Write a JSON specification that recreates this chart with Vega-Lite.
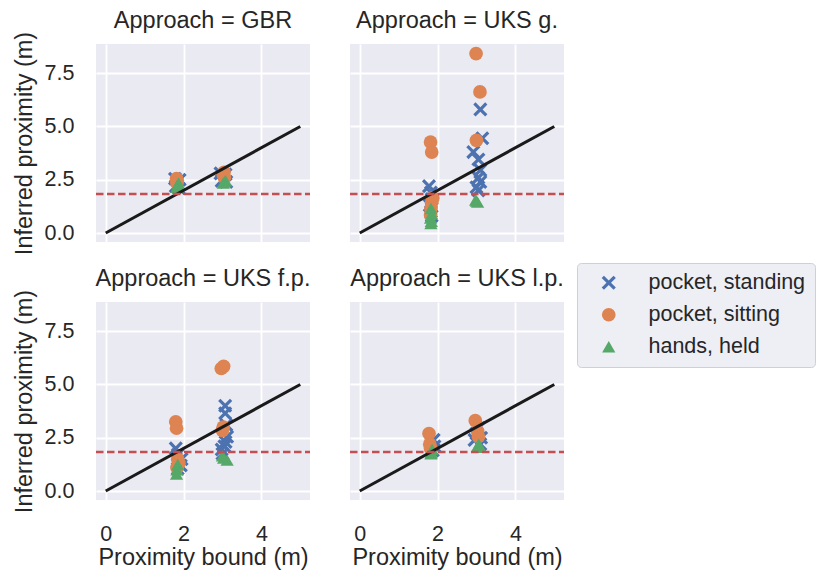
{
  "$schema": "https://vega.github.io/schema/vega-lite/v6.json",
  "background": "white",
  "padding": {"left": 12, "top": 8, "right": 10, "bottom": 6},
  "config": {
    "font": "Liberation Sans",
    "view": {"fill": "#EAEAF2", "stroke": null},
    "axis": {
      "domain": false, "ticks": false, "grid": true, "gridColor": "white", "gridWidth": 1.8,
      "labelFontSize": 21.5, "labelColor": "#262626", "titleFontSize": 23.5, "titleColor": "#262626",
      "titleFontWeight": "normal", "labelFont": "Liberation Sans", "titleFont": "Liberation Sans"
    },
    "header": {"labelFontSize": 23.5, "labelColor": "#262626", "labelFont": "Liberation Sans"},
    "legend": {
      "labelFontSize": 21.5, "labelColor": "#262626", "labelFont": "Liberation Sans",
      "fillColor": "#EEEEF5", "strokeColor": "#D0D0D0", "cornerRadius": 4, "padding": 9,
      "symbolOffset": 12, "labelOffset": 29, "rowPadding": 9, "symbolSize": 200, "symbolStrokeWidth": 0
    }
  },
  "data": {"values": [
    {"a":"GBR","k":"pt","t":"pocket, standing","x":1.78,"y":2.55},
    {"a":"GBR","k":"pt","t":"pocket, standing","x":1.80,"y":2.2},
    {"a":"GBR","k":"pt","t":"pocket, standing","x":1.90,"y":2.5},
    {"a":"GBR","k":"pt","t":"pocket, standing","x":1.88,"y":2.1},
    {"a":"GBR","k":"pt","t":"pocket, standing","x":2.95,"y":2.8},
    {"a":"GBR","k":"pt","t":"pocket, standing","x":3.08,"y":2.75},
    {"a":"GBR","k":"pt","t":"pocket, standing","x":2.98,"y":2.45},
    {"a":"GBR","k":"pt","t":"pocket, standing","x":3.10,"y":2.4},
    {"a":"GBR","k":"pt","t":"pocket, sitting","x":1.82,"y":2.55},
    {"a":"GBR","k":"pt","t":"pocket, sitting","x":1.84,"y":2.45},
    {"a":"GBR","k":"pt","t":"pocket, sitting","x":1.83,"y":2.35},
    {"a":"GBR","k":"pt","t":"pocket, sitting","x":3.02,"y":2.75},
    {"a":"GBR","k":"pt","t":"pocket, sitting","x":3.05,"y":2.6},
    {"a":"GBR","k":"pt","t":"pocket, sitting","x":3.04,"y":2.85},
    {"a":"GBR","k":"pt","t":"hands, held","x":1.85,"y":2.25},
    {"a":"GBR","k":"pt","t":"hands, held","x":1.87,"y":2.35},
    {"a":"GBR","k":"pt","t":"hands, held","x":1.83,"y":2.15},
    {"a":"GBR","k":"pt","t":"hands, held","x":3.05,"y":2.4},
    {"a":"GBR","k":"pt","t":"hands, held","x":3.08,"y":2.45},
    {"a":"GBR","k":"pt","t":"hands, held","x":3.02,"y":2.35},

    {"a":"UKS g.","k":"pt","t":"pocket, standing","x":1.78,"y":2.2},
    {"a":"UKS g.","k":"pt","t":"pocket, standing","x":1.83,"y":1.9},
    {"a":"UKS g.","k":"pt","t":"pocket, standing","x":1.85,"y":1.6},
    {"a":"UKS g.","k":"pt","t":"pocket, standing","x":1.80,"y":1.3},
    {"a":"UKS g.","k":"pt","t":"pocket, standing","x":1.83,"y":1.0},
    {"a":"UKS g.","k":"pt","t":"pocket, standing","x":1.85,"y":0.8},
    {"a":"UKS g.","k":"pt","t":"pocket, standing","x":3.10,"y":5.8},
    {"a":"UKS g.","k":"pt","t":"pocket, standing","x":3.15,"y":4.45},
    {"a":"UKS g.","k":"pt","t":"pocket, standing","x":2.92,"y":3.8},
    {"a":"UKS g.","k":"pt","t":"pocket, standing","x":3.05,"y":3.45},
    {"a":"UKS g.","k":"pt","t":"pocket, standing","x":3.10,"y":2.95},
    {"a":"UKS g.","k":"pt","t":"pocket, standing","x":3.05,"y":2.6},
    {"a":"UKS g.","k":"pt","t":"pocket, standing","x":3.10,"y":2.4},
    {"a":"UKS g.","k":"pt","t":"pocket, standing","x":3.00,"y":2.15},
    {"a":"UKS g.","k":"pt","t":"pocket, standing","x":3.05,"y":2.0},
    {"a":"UKS g.","k":"pt","t":"pocket, sitting","x":1.82,"y":4.27},
    {"a":"UKS g.","k":"pt","t":"pocket, sitting","x":1.85,"y":3.8},
    {"a":"UKS g.","k":"pt","t":"pocket, sitting","x":1.88,"y":1.65},
    {"a":"UKS g.","k":"pt","t":"pocket, sitting","x":1.85,"y":1.45},
    {"a":"UKS g.","k":"pt","t":"pocket, sitting","x":1.83,"y":1.15},
    {"a":"UKS g.","k":"pt","t":"pocket, sitting","x":1.82,"y":0.85},
    {"a":"UKS g.","k":"pt","t":"pocket, sitting","x":2.99,"y":8.42},
    {"a":"UKS g.","k":"pt","t":"pocket, sitting","x":3.09,"y":6.62},
    {"a":"UKS g.","k":"pt","t":"pocket, sitting","x":3.00,"y":4.35},
    {"a":"UKS g.","k":"pt","t":"hands, held","x":1.83,"y":1.15},
    {"a":"UKS g.","k":"pt","t":"hands, held","x":1.85,"y":0.9},
    {"a":"UKS g.","k":"pt","t":"hands, held","x":1.82,"y":0.7},
    {"a":"UKS g.","k":"pt","t":"hands, held","x":1.84,"y":0.55},
    {"a":"UKS g.","k":"pt","t":"hands, held","x":1.83,"y":0.45},
    {"a":"UKS g.","k":"pt","t":"hands, held","x":3.00,"y":1.5},
    {"a":"UKS g.","k":"pt","t":"hands, held","x":3.03,"y":1.45},
    {"a":"UKS g.","k":"pt","t":"hands, held","x":2.98,"y":1.55},

    {"a":"UKS f.p.","k":"pt","t":"pocket, standing","x":1.80,"y":2.0},
    {"a":"UKS f.p.","k":"pt","t":"pocket, standing","x":1.85,"y":1.7},
    {"a":"UKS f.p.","k":"pt","t":"pocket, standing","x":1.95,"y":1.5},
    {"a":"UKS f.p.","k":"pt","t":"pocket, standing","x":1.93,"y":1.2},
    {"a":"UKS f.p.","k":"pt","t":"pocket, standing","x":1.85,"y":1.05},
    {"a":"UKS f.p.","k":"pt","t":"pocket, standing","x":3.07,"y":4.0},
    {"a":"UKS f.p.","k":"pt","t":"pocket, standing","x":3.07,"y":3.65},
    {"a":"UKS f.p.","k":"pt","t":"pocket, standing","x":3.10,"y":3.1},
    {"a":"UKS f.p.","k":"pt","t":"pocket, standing","x":3.12,"y":2.55},
    {"a":"UKS f.p.","k":"pt","t":"pocket, standing","x":3.08,"y":2.3},
    {"a":"UKS f.p.","k":"pt","t":"pocket, standing","x":3.05,"y":2.1},
    {"a":"UKS f.p.","k":"pt","t":"pocket, standing","x":2.98,"y":1.95},
    {"a":"UKS f.p.","k":"pt","t":"pocket, standing","x":3.00,"y":1.75},
    {"a":"UKS f.p.","k":"pt","t":"pocket, sitting","x":1.80,"y":3.25},
    {"a":"UKS f.p.","k":"pt","t":"pocket, sitting","x":1.82,"y":2.95},
    {"a":"UKS f.p.","k":"pt","t":"pocket, sitting","x":1.85,"y":1.5},
    {"a":"UKS f.p.","k":"pt","t":"pocket, sitting","x":1.88,"y":1.3},
    {"a":"UKS f.p.","k":"pt","t":"pocket, sitting","x":1.83,"y":1.1},
    {"a":"UKS f.p.","k":"pt","t":"pocket, sitting","x":2.97,"y":5.75},
    {"a":"UKS f.p.","k":"pt","t":"pocket, sitting","x":3.03,"y":5.85},
    {"a":"UKS f.p.","k":"pt","t":"pocket, sitting","x":3.02,"y":3.0},
    {"a":"UKS f.p.","k":"pt","t":"pocket, sitting","x":3.00,"y":2.85},
    {"a":"UKS f.p.","k":"pt","t":"hands, held","x":1.85,"y":1.25},
    {"a":"UKS f.p.","k":"pt","t":"hands, held","x":1.83,"y":1.0},
    {"a":"UKS f.p.","k":"pt","t":"hands, held","x":1.82,"y":0.8},
    {"a":"UKS f.p.","k":"pt","t":"hands, held","x":3.03,"y":1.55},
    {"a":"UKS f.p.","k":"pt","t":"hands, held","x":3.12,"y":1.45},
    {"a":"UKS f.p.","k":"pt","t":"hands, held","x":3.00,"y":1.65},

    {"a":"UKS l.p.","k":"pt","t":"pocket, standing","x":1.90,"y":2.4},
    {"a":"UKS l.p.","k":"pt","t":"pocket, standing","x":1.92,"y":2.1},
    {"a":"UKS l.p.","k":"pt","t":"pocket, standing","x":1.88,"y":1.9},
    {"a":"UKS l.p.","k":"pt","t":"pocket, standing","x":2.95,"y":2.4},
    {"a":"UKS l.p.","k":"pt","t":"pocket, standing","x":3.00,"y":2.7},
    {"a":"UKS l.p.","k":"pt","t":"pocket, standing","x":3.12,"y":2.5},
    {"a":"UKS l.p.","k":"pt","t":"pocket, standing","x":3.10,"y":2.2},
    {"a":"UKS l.p.","k":"pt","t":"pocket, standing","x":3.05,"y":2.95},
    {"a":"UKS l.p.","k":"pt","t":"pocket, sitting","x":1.78,"y":2.7},
    {"a":"UKS l.p.","k":"pt","t":"pocket, sitting","x":1.80,"y":2.2},
    {"a":"UKS l.p.","k":"pt","t":"pocket, sitting","x":1.82,"y":2.0},
    {"a":"UKS l.p.","k":"pt","t":"pocket, sitting","x":2.97,"y":3.3},
    {"a":"UKS l.p.","k":"pt","t":"pocket, sitting","x":3.03,"y":2.8},
    {"a":"UKS l.p.","k":"pt","t":"pocket, sitting","x":3.05,"y":2.55},
    {"a":"UKS l.p.","k":"pt","t":"hands, held","x":1.86,"y":1.95},
    {"a":"UKS l.p.","k":"pt","t":"hands, held","x":1.84,"y":1.8},
    {"a":"UKS l.p.","k":"pt","t":"hands, held","x":1.83,"y":1.75},
    {"a":"UKS l.p.","k":"pt","t":"hands, held","x":3.06,"y":2.2},
    {"a":"UKS l.p.","k":"pt","t":"hands, held","x":3.03,"y":2.1},
    {"a":"UKS l.p.","k":"pt","t":"hands, held","x":3.08,"y":2.05},

    {"a":"GBR","k":"ref","x":0,"y":0},{"a":"GBR","k":"ref","x":5,"y":5},
    {"a":"UKS g.","k":"ref","x":0,"y":0},{"a":"UKS g.","k":"ref","x":5,"y":5},
    {"a":"UKS f.p.","k":"ref","x":0,"y":0},{"a":"UKS f.p.","k":"ref","x":5,"y":5},
    {"a":"UKS l.p.","k":"ref","x":0,"y":0},{"a":"UKS l.p.","k":"ref","x":5,"y":5},
    {"a":"GBR","k":"thr","y":1.83},
    {"a":"UKS g.","k":"thr","y":1.83},
    {"a":"UKS f.p.","k":"thr","y":1.83},
    {"a":"UKS l.p.","k":"thr","y":1.83}
  ]},
  "facet": {
    "field": "a", "type": "nominal",
    "sort": ["GBR", "UKS g.", "UKS f.p.", "UKS l.p."],
    "header": {"title": null, "labelExpr": "'Approach = ' + datum.value", "labelPadding": 12}
  },
  "columns": 2,
  "spacing": {"row": 24, "column": 36},
  "spec": {
    "width": 214,
    "height": 198,
    "encoding": {
      "x": {"field": "x", "type": "quantitative", "title": "Proximity bound (m)",
        "scale": {"domain": [-0.25, 5.25], "nice": false, "zero": false},
        "axis": {"values": [0, 2, 4], "labelPadding": 23, "titlePadding": 1}},
      "y": {"field": "y", "type": "quantitative", "title": "Inferred proximity (m)",
        "scale": {"domain": [-0.42, 8.87], "nice": false, "zero": false},
        "axis": {"values": [0, 2.5, 5, 7.5], "format": ".1f", "labelPadding": 20, "titlePadding": 8}}
    },
    "layer": [
      {
        "transform": [{"filter": "datum.k == 'pt'"}],
        "mark": {"type": "point", "filled": true, "opacity": 1},
        "encoding": {
          "color": {"field": "t", "type": "nominal", "title": null,
            "scale": {"domain": ["pocket, standing", "pocket, sitting", "hands, held"],
                      "range": ["#4C72B0", "#DD8452", "#55A868"]},
            "legend": {"orient": "none", "legendX": 481, "legendY": 219}},
          "shape": {"field": "t", "type": "nominal", "title": null,
            "scale": {"domain": ["pocket, standing", "pocket, sitting", "hands, held"],
                      "range": ["M-1,-0.68L-0.68,-1L0,-0.32L0.68,-1L1,-0.68L0.32,0L1,0.68L0.68,1L0,0.32L-0.68,1L-1,0.68L-0.32,0Z", "circle", "triangle-up"]},
            "legend": {"orient": "none", "legendX": 481, "legendY": 219}},
          "size": {"field": "t", "type": "nominal", "legend": null,
            "scale": {"domain": ["pocket, standing", "pocket, sitting", "hands, held"],
                      "range": [200, 175, 220]}}
        }
      },
      {
        "transform": [{"filter": "datum.k == 'ref'"}],
        "mark": {"type": "line", "color": "#1a1a1a", "strokeWidth": 3},
        "encoding": {}
      },
      {
        "transform": [{"filter": "datum.k == 'thr'"}],
        "mark": {"type": "rule", "color": "#C44E52", "strokeWidth": 2.6, "strokeDash": [7.5, 3.5]},
        "encoding": {"x": {"value": 0}, "x2": {"value": 214}}
      }
    ]
  }
}
